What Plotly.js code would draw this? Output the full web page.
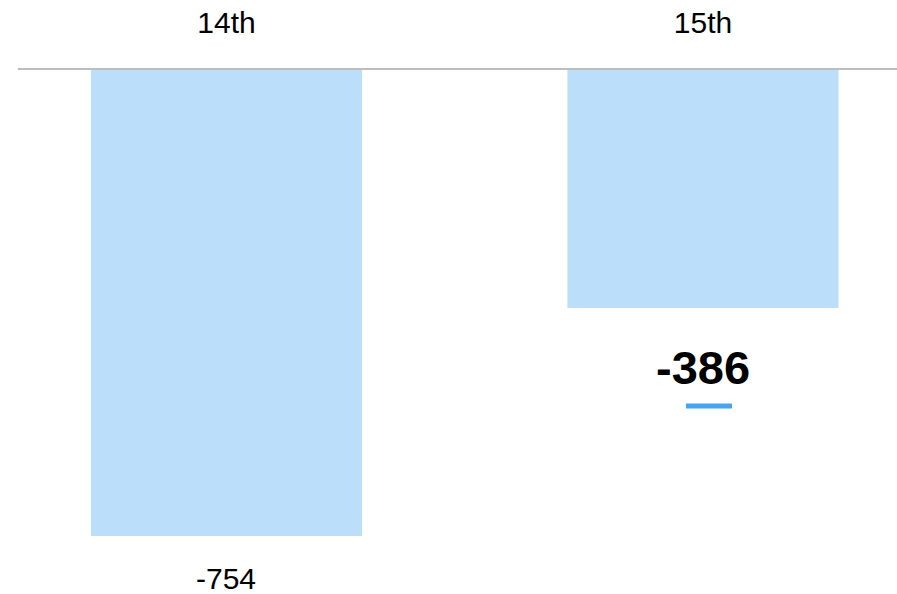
<!DOCTYPE html>
<html>
<head>
<meta charset="utf-8">
<script src="https://cdn.plot.ly/plotly-3.0.1.min.js"></script>
<style>html,body{margin:0;padding:0;background:#fff;}#chart{width:897px;height:594px;}</style>
</head>
<body>
<div id="chart"></div>
<script>
// Data
const categories = ["14th", "15th"];
const values = [-754, -386];
const valueLabels = ["-754", "-386"];
const highlighted = [false, true];

const barColor = "#bbdefb";
const accentColor = "#42a5f5";

const trace = {
  type: "bar",
  x: categories,
  y: values,
  width: 0.569,
  marker: {color: barColor},
  hoverinfo: "skip",
  cliponaxis: false
};

const annotations = categories.map((c, i) => ({
  x: c, xref: "x",
  y: values[i], yref: "y",
  text: highlighted[i] ? "<b>" + valueLabels[i] + "</b>" : valueLabels[i],
  showarrow: false,
  yanchor: "middle",
  borderpad: 0,
  yshift: highlighted[i] ? -59 : -42,
  font: {family: "Arial, Liberation Sans, sans-serif", size: highlighted[i] ? 47 : 30, color: "#000"}
}));

const shapes = [
  {type: "line", xref: "paper", yref: "y", x0: 0.02, x1: 1, y0: 0, y1: 0,
   line: {color: "#bdbdbd", width: 2}, layer: "above"}
];
categories.forEach((c, i) => {
  if (highlighted[i]) {
    shapes.push({type: "line", xref: "x", yref: "y", xsizemode: "pixel", ysizemode: "pixel",
      xanchor: i, yanchor: values[i], x0: -17, x1: 29, y0: -98, y1: -98,
      line: {color: accentColor, width: 5}});
  }
});

const layout = {
  width: 897, height: 594,
  margin: {l: 0, r: 0, t: 50, b: 0},
  paper_bgcolor: "#fff", plot_bgcolor: "#fff",
  showlegend: false,
  xaxis: {
    type: "category", side: "top", range: [-0.4753, 1.4072],
    showgrid: false, zeroline: false, showline: false,
    ticks: "outside", ticklen: 4, tickcolor: "rgba(0,0,0,0)",
    tickfont: {family: "Arial, Liberation Sans, sans-serif", size: 30, color: "#000"},
    fixedrange: true
  },
  yaxis: {
    range: [-847.6, 30.7], visible: false, showgrid: false, zeroline: false, fixedrange: true
  },
  annotations: annotations,
  shapes: shapes
};

Plotly.newPlot("chart", [trace], layout, {displayModeBar: false, staticPlot: true});
</script>
</body>
</html>
